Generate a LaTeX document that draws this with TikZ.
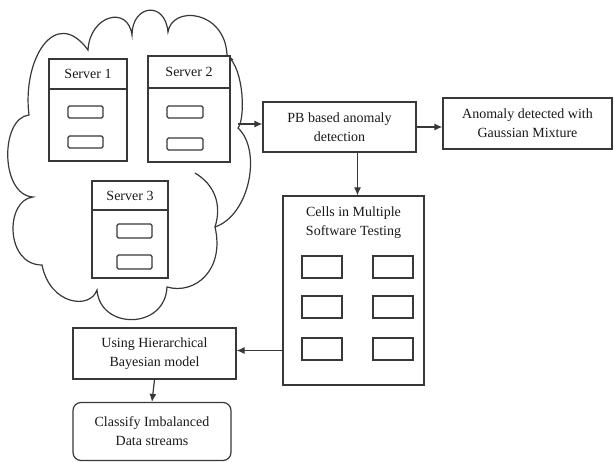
\documentclass[tikz,border=0pt]{standalone}
\usepackage{fontspec}
\setmainfont{Liberation Serif}
\usetikzlibrary{calc,arrows.meta}
\tikzset{
	line/.style={line width=1.2pt, color=black!78},
	box/.style={line, draw, fill=white, align=center, inner sep=0pt, font=\fontsize{14}{19}\selectfont, text=black!90},
	lbl/.style={align=center, inner sep=0pt, font=\fontsize{14}{19}\selectfont, text=black!90},
	slot/.style={line, rounded corners=1.5pt},
	arr/.style={line, -{Latex[length=8pt,width=7pt]}},
}

\begin{document}
\begin{tikzpicture}[x=1pt, y=-1pt]
			%%%%% START %%%%%
			
			\useasboundingbox (0,0) rectangle (614,462);
			
			% cloud
			\draw[line] (29,115) .. controls (22,60) and (55,5) .. (88,50)
				.. controls (90,15) and (128,5) .. (132,35)
				.. controls (132,5) and (165,0) .. (168,32)
				.. controls (172,5) and (225,10) .. (227,55)
				.. controls (245,70) and (245,120) .. (238,128)
				.. controls (262,150) and (250,215) .. (215,227)
				.. controls (225,270) and (195,295) .. (167,287)
				.. controls (165,330) and (100,330) .. (97,290)
				.. controls (90,310) and (50,305) .. (42,265)
				.. controls (5,265) and (5,200) .. (33,197)
				.. controls (0,195) and (0,118) .. (29,115) -- cycle;
			\draw[line] (195,173) .. controls (215,185) and (222,205) .. (215,227);
			\draw[line] (227,55) -- (233,60);
			\coordinate (cloudout) at (238,124);
			
			% server 1
			\draw[line, fill=white] (49,59) rectangle (127,161);
			\draw[line] (49,89) -- (127,89);
			\node[lbl] (srvone) at (88,74) {Server 1};
			\draw[slot] (68,106) rectangle (103,118);
			\draw[slot] (68,136) rectangle (103,148);
			
			% server 2
			\draw[line, fill=white] (148,56) rectangle (230,162);
			\draw[line] (148,88) -- (230,88);
			\node[lbl] (srvtwo) at (189,72) {Server 2};
			\draw[slot] (167,106) rectangle (203,118);
			\draw[slot] (167,138) rectangle (203,150);
			
			% server 3
			\draw[line, fill=white] (92,181) rectangle (168,278);
			\draw[line] (92,210) -- (168,210);
			\node[lbl] (srvthree) at (130,196) {Server 3};
			\draw[slot] (117,224) rectangle (152,238);
			\draw[slot] (117,255) rectangle (152,269);
			
			% boxes
			\node[box, minimum width=153pt, minimum height=50pt] (pb) at (339.5,127) {PB based anomaly\\detection};
			\node[box, minimum width=169pt, minimum height=51pt] (anom) at (527.5,123.5) {Anomaly detected with\\Gaussian Mixture};
			\node[box, minimum width=141pt, minimum height=189pt] (cells) at (353.5,290.5) {};
			\node[lbl] (cellstitle) at (353.5,223) {Cells in Multiple\\Software Testing};
			\draw[line] (302,256) rectangle (342,278);
			\draw[line] (373,256) rectangle (413,278);
			\draw[line] (302,296) rectangle (342,318);
			\draw[line] (373,296) rectangle (413,318);
			\draw[line] (302,338) rectangle (342,360);
			\draw[line] (373,338) rectangle (413,360);
			\node[box, minimum width=163pt, minimum height=51pt] (hier) at (154.5,353.5) {Using Hierarchical\\Bayesian model};
			\node[box, rounded corners=8pt, minimum width=158pt, minimum height=58pt] (cls) at (152,431.5) {Classify Imbalanced\\Data streams};
			
			% arrows
			\draw[arr] (cloudout) -- (cloudout -| pb.west);
			\draw[arr] (pb.east) -- (pb.east -| anom.west);
			\draw[arr] ([xshift=18pt]pb.south) -- ([xshift=18pt]pb.south |- cells.north);
			\draw[arr] ([yshift=3pt]cells.west |- hier.east) -- ([yshift=3pt]hier.east);
			\draw[arr] (hier.south) -- (cls.north);
			
			%%%%% END %%%%%
\end{tikzpicture}
\end{document}
